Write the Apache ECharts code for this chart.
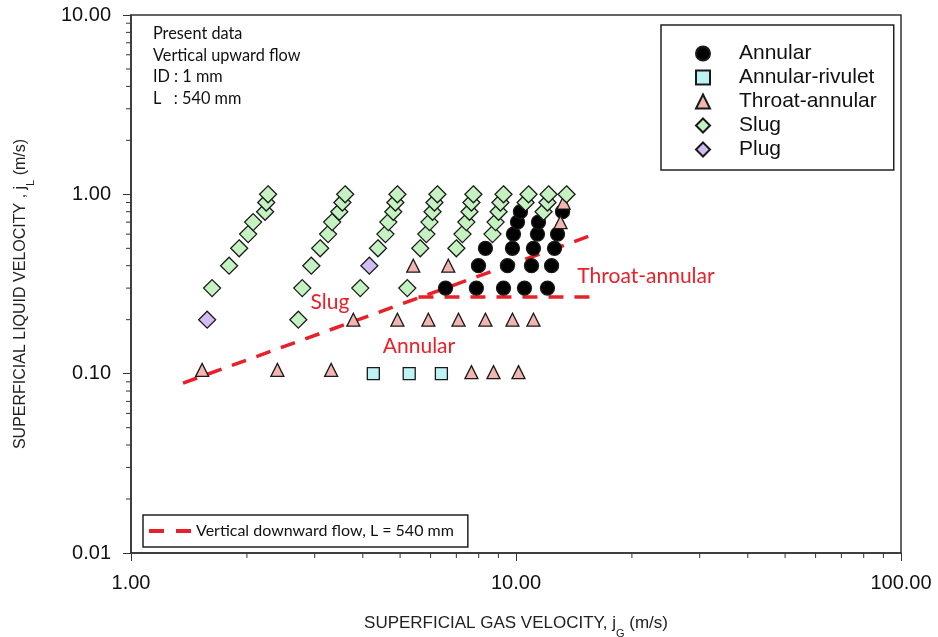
<!DOCTYPE html>
<html><head><meta charset="utf-8">
<script src="https://cdn.jsdelivr.net/npm/echarts@6/dist/echarts.min.js"></script>
<style>html,body{margin:0;padding:0;background:#fff}#c{width:938px;height:637px}</style>
</head><body><div id="c"></div>
<script>
// ---- data (superficial gas velocity jG, superficial liquid velocity jL, m/s) ----
const annularJG = [6.56, 7.89, 7.99, 8.33, 9.28, 9.50, 9.79, 9.85, 10.09, 10.27, 10.52, 10.97, 11.10, 11.37, 11.44, 12.07, 12.37, 12.59, 12.82, 13.21];
const annularJL = [0.3, 0.3, 0.4, 0.5, 0.3, 0.4, 0.5, 0.6, 0.7, 0.8, 0.3, 0.4, 0.5, 0.6, 0.7, 0.3, 0.4, 0.5, 0.6, 0.8];

const rivuletJG = [4.26, 5.28, 6.40];
const rivuletJL = [0.1, 0.1, 0.1];

const throatJG = [1.53, 2.40, 3.31, 7.66, 8.74, 10.15, 3.78, 4.92, 5.92, 7.09, 8.33, 9.79, 11.10, 5.41, 6.67, 13.05, 13.29];
const throatJL = [0.105, 0.105, 0.105, 0.102, 0.102, 0.102, 0.2, 0.2, 0.2, 0.2, 0.2, 0.2, 0.2, 0.4, 0.4, 0.7, 0.9];

const slugJG = [1.624, 1.798, 1.91, 2.015, 2.076, 2.23, 2.245, 2.27,
                2.72, 2.785, 2.94, 3.10, 3.25, 3.33, 3.475, 3.54, 3.60,
                3.94, 4.38, 4.58, 4.66, 4.80, 4.86, 4.92,
                5.22, 5.64, 5.85, 5.96, 6.07, 6.14, 6.25,
                7.00, 7.26, 7.43, 7.57, 7.66, 7.75,
                8.69, 8.85, 9.01, 9.11, 9.28,
                10.59, 10.78,
                11.79, 12.07, 12.15,
                13.53];
const slugJL = [0.3, 0.4, 0.5, 0.6, 0.7, 0.8, 0.9, 1.0,
                0.2, 0.3, 0.4, 0.5, 0.6, 0.7, 0.8, 0.9, 1.0,
                0.3, 0.5, 0.6, 0.7, 0.8, 0.9, 1.0,
                0.3, 0.5, 0.6, 0.7, 0.8, 0.9, 1.0,
                0.5, 0.6, 0.7, 0.8, 0.9, 1.0,
                0.6, 0.7, 0.8, 0.9, 1.0,
                0.9, 1.0,
                0.8, 0.9, 1.0,
                1.0];

const plugJG = [1.577, 4.16];
const plugJL = [0.2, 0.4];

// transition boundaries, vertical downward flow
const boundaryAJG = [1.365, 16.29];
const boundaryAJL = [0.0886, 0.608];
const boundaryBJG = [5.58, 16.1];
const boundaryBJL = [0.2675, 0.2675];

// axis ticks
const xMinorTicks = [2, 3, 4, 5, 6, 7, 8, 9, 20, 30, 40, 50, 60, 70, 80, 90];
const yMinorTicks = [0.02, 0.03, 0.04, 0.05, 0.06, 0.07, 0.08, 0.09, 0.2, 0.3, 0.4, 0.5, 0.6, 0.7, 0.8, 0.9, 2, 3, 4, 5, 6, 7, 8, 9];

const infoLines = ['Present data', 'Vertical upward flow', 'ID : 1 mm', 'L   : 540 mm'];
const lineName = 'Vertical downward flow, L = 540 mm';

const zip = (a, b) => a.map((v, i) => [v, b[i]]);

const AX = '#333';
const SANS = '"Liberation Sans", Arial, sans-serif';
const CAL = 'Lato, "Noto Sans", sans-serif';
const RED = '#e8202a';

const chart = echarts.init(document.getElementById('c'));
const mk = (name, xs, ys, symbol, size, fill) => ({
  name, type: 'scatter', data: zip(xs, ys), symbol, symbolSize: size,
  itemStyle: { color: fill, borderColor: '#1a1a1a', borderWidth: 1.3, opacity: 1 },
  z: 5
});

const tickData = xMinorTicks.map(v => [v, 0.01, 0]).concat(yMinorTicks.map(v => [1, v, 1]));
const richFor = (fs) => ({
  t: { fontFamily: SANS, fontSize: fs, color: '#222' },
  s: { fontFamily: SANS, fontSize: 11, color: '#222', verticalAlign: 'bottom', padding: [0, 0, -7, 0] }
});

chart.setOption({
  animation: false,
  backgroundColor: '#fff',
  grid: { left: 131, right: 37, top: 15, bottom: 84, show: true, borderColor: AX, borderWidth: 1.5, outerBoundsMode: 'none', containLabel: false },
  title: {
    text: infoLines.join('\n'), left: 148, top: 18,
    textStyle: { fontFamily: CAL, fontSize: 16.3, fontWeight: 'normal', color: '#111', lineHeight: 21.6 }
  },
  legend: [
    {
      data: [
        { name: 'Annular', icon: 'circle' },
        { name: 'Annular-rivulet', icon: 'rect' },
        { name: 'Throat-annular', icon: 'triangle' },
        { name: 'Slug', icon: 'diamond' },
        { name: 'Plug', icon: 'diamond' }
      ],
      orient: 'vertical', left: 661, top: 25,
      padding: [18, 17, 10, 34], itemWidth: 14, itemHeight: 14, itemGap: 3,
      borderColor: '#222', borderWidth: 1.5,
      formatter: n => '{g|}{n|' + n + '}',
      textStyle: {
        fontFamily: SANS, fontSize: 21, color: '#111', lineHeight: 20,
        rich: { g: { width: 24 }, n: { fontFamily: SANS, fontSize: 21, color: '#111', lineHeight: 20 } }
      },
      selectedMode: false
    },
    {
      data: [{ name: lineName, icon: 'path://M0,0h15v4h-15z M27,0h15v4h-15z', itemStyle: { color: RED, borderWidth: 0 } }],
      left: 143, top: 515,
      padding: [8, 14, 8, 6], itemWidth: 42, itemHeight: 4,
      borderColor: '#222', borderWidth: 1.5,
      textStyle: { fontFamily: CAL, fontSize: 16, color: '#111', lineHeight: 16 },
      selectedMode: false
    }
  ],
  xAxis: {
    type: 'log', logBase: 10, min: 1, max: 100,
    name: '{t|SUPERFICIAL GAS VELOCITY, j}{s|G}{t| (m/s)}',
    nameLocation: 'middle', nameGap: 62,
    nameTextStyle: { rich: richFor(17) },
    axisLine: { lineStyle: { color: AX, width: 1.5 } },
    axisTick: { inside: false, length: 8, lineStyle: { color: AX } },
    axisLabel: { formatter: v => Number(v).toFixed(2), fontFamily: SANS, fontSize: 20, color: '#111', margin: 20 },
    splitLine: { show: false }
  },
  yAxis: {
    type: 'log', logBase: 10, min: 0.01, max: 10,
    name: '{t|SUPERFICIAL LIQUID VELOCITY , j}{s|L}{t| (m/s)}',
    nameLocation: 'middle', nameGap: 102, nameRotate: 90,
    nameTextStyle: { rich: richFor(16), padding: [0, 20, 0, 0] },
    axisLine: { lineStyle: { color: AX, width: 1.5 } },
    axisTick: { inside: false, length: 8, lineStyle: { color: AX } },
    axisLabel: { formatter: v => Number(v).toFixed(2), fontFamily: SANS, fontSize: 20, color: '#111', margin: 20 },
    splitLine: { show: false }
  },
  graphic: [
    { type: 'text', x: 330, y: 302, style: { text: 'Slug', fill: RED, font: '21px ' + CAL, textAlign: 'center', textVerticalAlign: 'middle' }, z: 10 },
    { type: 'text', x: 419, y: 346, style: { text: 'Annular', fill: RED, font: '21px ' + CAL, textAlign: 'center', textVerticalAlign: 'middle' }, z: 10 },
    { type: 'text', x: 646, y: 276, style: { text: 'Throat-annular', fill: RED, font: '21px ' + CAL, textAlign: 'center', textVerticalAlign: 'middle' }, z: 10 }
  ],
  series: [
    {
      name: lineName, type: 'line', data: zip(boundaryAJG, boundaryAJL), showSymbol: false, symbol: 'none',
      lineStyle: { color: RED, width: 3.5, type: [15, 11] }, itemStyle: { color: RED }, z: 4
    },
    {
      name: 'boundary2', type: 'line', data: zip(boundaryBJG, boundaryBJL), showSymbol: false, symbol: 'none',
      lineStyle: { color: RED, width: 3.5, type: [15, 11] }, itemStyle: { color: RED }, z: 4
    },
    mk('Annular', annularJG, annularJL, 'circle', 14, '#000'),
    mk('Annular-rivulet', rivuletJG, rivuletJL, 'rect', 12, '#bdf3f3'),
    mk('Throat-annular', throatJG, throatJL, 'triangle', 13, '#f2b5b0'),
    mk('Slug', slugJG, slugJL, 'diamond', 17, '#c4f2c0'),
    mk('Plug', plugJG, plugJL, 'diamond', 17, '#d2bdf3'),
    {
      name: 'minorTicks', type: 'custom', data: tickData, silent: true, clip: false, z: 3,
      renderItem: (params, api) => {
        const p = api.coord([api.value(0), api.value(1)]);
        const d = api.value(2);
        const shape = d === 0 ? { x1: p[0], y1: p[1], x2: p[0], y2: p[1] + 5 } : { x1: p[0], y1: p[1], x2: p[0] - 5, y2: p[1] };
        return { type: 'line', shape, style: { stroke: AX, lineWidth: 1 } };
      }
    }
  ]
});
</script></body></html>
